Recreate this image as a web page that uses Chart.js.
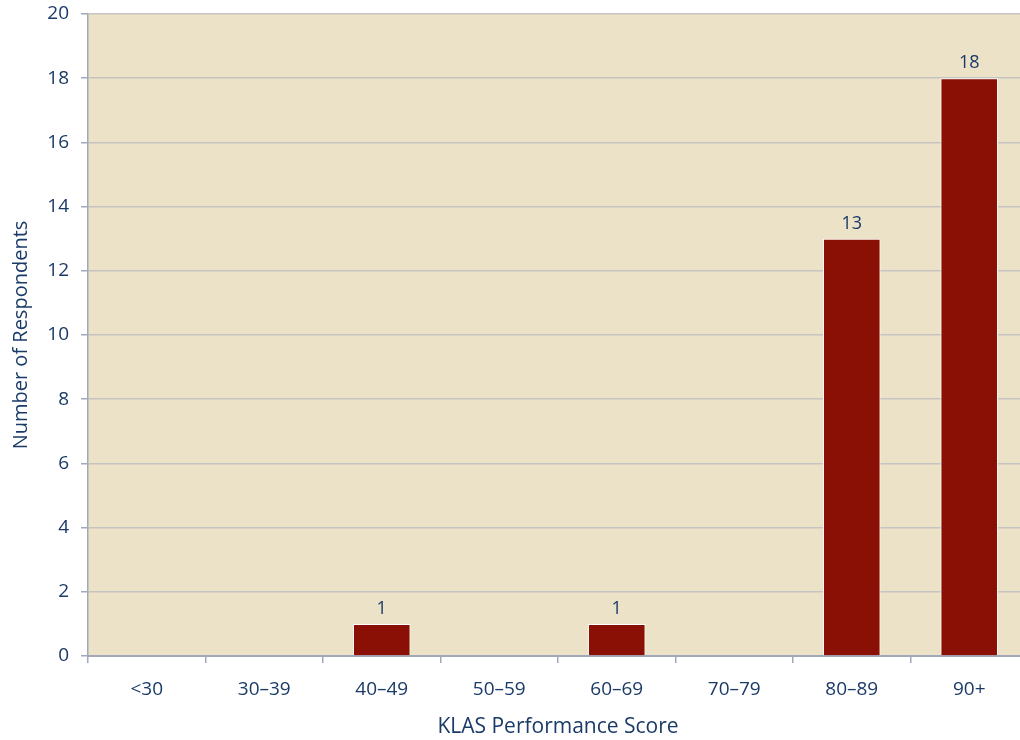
<!DOCTYPE html>
<html>
<head>
<meta charset="utf-8">
<script src="https://cdn.jsdelivr.net/npm/chart.js@4"></script>
<style>
  html, body { margin: 0; padding: 0; background: #fff; overflow: hidden; }
  .wrap { width: 1032px; height: 740px; }
</style>
</head>
<body>
<div class="wrap"><canvas id="scoreChart"></canvas></div>
<script>
const scoreBands = ["<30", "30\u201339", "40\u201349", "50\u201359", "60\u201369", "70\u201379", "80\u201389", "90+"];
const respondents = [0, 0, 1, 0, 1, 0, 13, 18];
const yTicks = [0, 2, 4, 6, 8, 10, 12, 14, 16, 18, 20];

const navy = '#1a3a68';
const fontFamily = '"Open Sans", Lato, sans-serif';

// beige plot background
const plotBackground = {
    id: 'plotBackground',
    beforeDraw(chart) {
        const { ctx, chartArea: a } = chart;
        ctx.save();
        ctx.fillStyle = '#ece2c7';
        ctx.fillRect(a.left, a.top, a.right - a.left, a.bottom - a.top);
        ctx.restore();
    }
};

// value labels above non-zero bars
const barLabels = {
    id: 'barLabels',
    afterDatasetsDraw(chart) {
        const { ctx } = chart;
        const meta = chart.getDatasetMeta(0);
        ctx.save();
        ctx.fillStyle = navy;
        ctx.font = '18px ' + fontFamily;
        ctx.textAlign = 'center';
        ctx.textBaseline = 'bottom';
        meta.data.forEach((bar, i) => {
            const v = respondents[i];
            if (!v) return;
            ctx.fillText(String(v), bar.x, bar.y - 6);
        });
        ctx.restore();
    }
};

new Chart(document.getElementById('scoreChart'), {
    type: 'bar',
    data: {
        labels: scoreBands,
        datasets: [{
            data: respondents,
            backgroundColor: '#8a0f05',
            borderColor: '#ffffff',
            borderWidth: 1,
            barPercentage: 0.49,
            categoryPercentage: 1
        }]
    },
    options: {
        responsive: true,
        maintainAspectRatio: false,
        animation: false,
        layout: { padding: { top: 14, right: 4, left: 9, bottom: 0 } },
        plugins: {
            legend: { display: false },
            tooltip: { enabled: false }
        },
        scales: {
            x: {
                offset: true,
                grid: {
                    offset: true,
                    drawOnChartArea: false,
                    drawTicks: true,
                    tickLength: 7,
                    color: '#a3a8b8',
                    lineWidth: 1.5
                },
                border: { color: '#a3a8b8', width: 2 },
                ticks: {
                    color: navy,
                    font: { family: fontFamily, size: 19 },
                    padding: 15,
                    maxRotation: 0
                },
                title: {
                    display: true,
                    text: 'KLAS Performance Score',
                    color: navy,
                    font: { family: fontFamily, size: 21 },
                    padding: { top: 7, bottom: 0 }
                },
                afterFit(scale) { scale.height = 84; }
            },
            y: {
                min: 0,
                max: 20,
                afterBuildTicks(scale) {
                    scale.ticks = yTicks.map(v => ({ value: v }));
                },
                grid: {
                    color: '#c6c4c2',
                    lineWidth: 1.5,
                    tickLength: 7,
                    tickColor: '#a3a8b8'
                },
                border: { color: '#a3a8b8', width: 1.5 },
                ticks: {
                    color: navy,
                    font: { family: fontFamily, size: 19 },
                    padding: 12
                },
                title: {
                    display: true,
                    text: 'Number of Respondents',
                    color: navy,
                    font: { family: fontFamily, size: 20 },
                    padding: { top: 0, bottom: 2 }
                },
                afterFit(scale) {
                    scale.width = 79;
                    scale.paddingTop = 0;
                    scale.paddingBottom = 0;
                }
            }
        }
    },
    plugins: [plotBackground, barLabels]
});
</script>
</body>
</html>
